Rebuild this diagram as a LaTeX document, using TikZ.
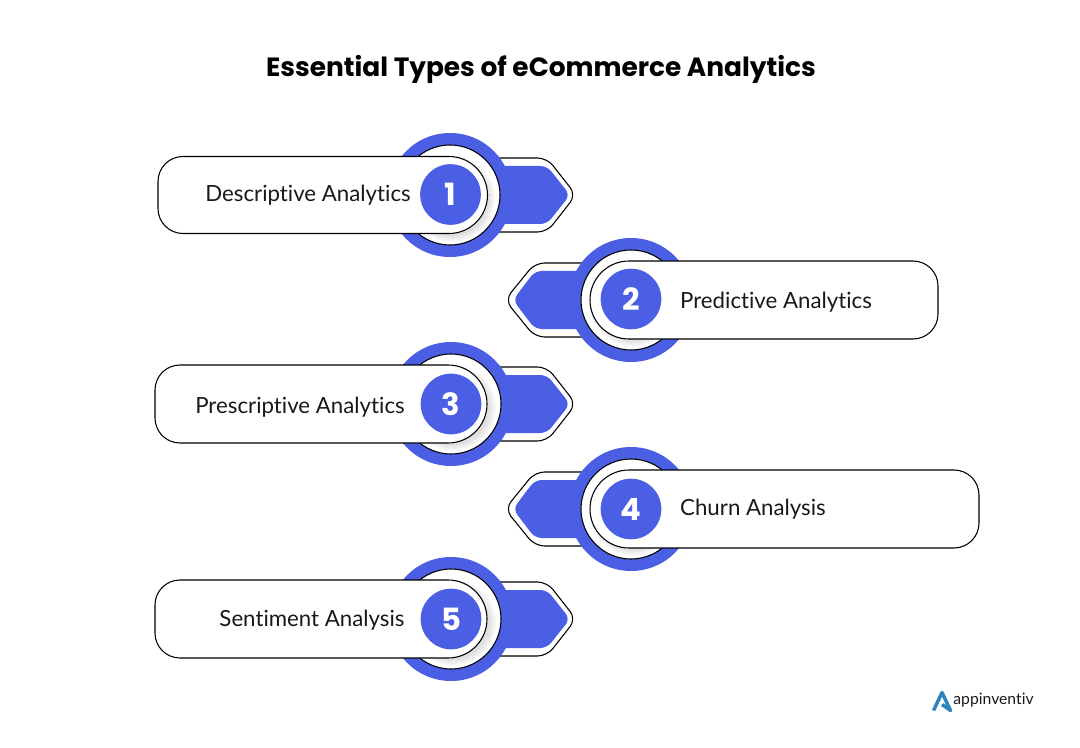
\documentclass[tikz,border=0pt]{standalone}
\usepackage{fontspec}
\setmainfont{Lato}[Ligatures=NoCommon]
\newfontfamily\titlefont{Poppins}
\definecolor{discblue}{HTML}{4B5FE4}
\definecolor{logoblue}{HTML}{2F82BE}
\tikzset{
    ringbox/.style={draw=black, line width=0.8pt, fill=white, path picture={
        \foreach \r in {37,39,...,43}{\fill[black, opacity=0.03] ([shift={(2,4)}]path picture bounding box.center) circle[radius=\r];}
    }},
    arrowbox/.style={draw=black, line width=0.8pt, fill=white, rounded corners=7pt},
    arrowfill/.style={fill=discblue, rounded corners=5pt},
    pillbox/.style={draw=black, line width=0.8pt, fill=white},
    numdisc/.style={circle, fill=discblue, minimum size=45.5pt, inner sep=0pt, text=white, font=\titlefont\fontsize{23}{24}\selectfont\bfseries},
    namelabel/.style={font=\fontsize{16.7}{18}\selectfont, text=black!90},
}
\begin{document}
\begin{tikzpicture}[x=0.75pt, y=-0.75pt]
        \useasboundingbox (0,0) rectangle (1080,748);
        \node[font=\titlefont\fontsize{19.8}{24}\selectfont\bfseries] (title) at (541,69) {Essential Types of eCommerce Analytics};
        \begin{scope}[shift={(450,195)}]
            \draw[arrowbox] (0,-37) -- (97,-37) -- (126,0) -- (97,37) -- (0,37) -- cycle ;
            \fill[arrowfill] (0,-29) -- (97,-29) -- (120,0) -- (97,29) -- (0,29) -- cycle ;
            \fill[discblue] (0,0) circle[radius=62] ;
            \draw[ringbox] (0,0) circle[radius=50] ;
            \draw[pillbox] (-1,-38.5) arc[start angle=-90, end angle=90, radius=38.5] -- (-267,38.5) arc[start angle=90, end angle=180, radius=25] -- (-292,-13.5) arc[start angle=180, end angle=270, radius=25] -- cycle ;
            \node[numdisc] (one) at (0.5,-0.5) {1};
            \node[namelabel] (descriptive) at (-142,0) {Descriptive Analytics};
        \end{scope}
        \begin{scope}[shift={(631,300)}]
            \draw[arrowbox] (0,-37) -- (-96,-37) -- (-126,0) -- (-96,37) -- (0,37) -- cycle ;
            \fill[arrowfill] (0,-29) -- (-96,-29) -- (-118,0) -- (-96,29) -- (0,29) -- cycle ;
            \fill[discblue] (0,0) circle[radius=62] ;
            \draw[ringbox] (0,0) circle[radius=50] ;
            \draw[pillbox] (-2,39) arc[start angle=90, end angle=270, radius=39] -- (282,-39) arc[start angle=-90, end angle=0, radius=25] -- (307,14) arc[start angle=0, end angle=90, radius=25] -- cycle ;
            \node[numdisc] (two) at (0,-1) {2};
            \node[namelabel] (predictive) at (145,2) {Predictive Analytics};
        \end{scope}
        \begin{scope}[shift={(451,404)}]
            \draw[arrowbox] (0,-37) -- (96,-37) -- (125,0) -- (96,37) -- (0,37) -- cycle ;
            \fill[arrowfill] (0,-29) -- (96,-29) -- (119,0) -- (96,29) -- (0,29) -- cycle ;
            \fill[discblue] (0,0) circle[radius=62] ;
            \draw[ringbox] (0,0) circle[radius=50] ;
            \draw[pillbox] (-3,-39) arc[start angle=-90, end angle=90, radius=39] -- (-271,39) arc[start angle=90, end angle=180, radius=25] -- (-296,-14) arc[start angle=180, end angle=270, radius=25] -- cycle ;
            \node[numdisc] (three) at (0,0) {3};
            \node[namelabel] (prescriptive) at (-151,3) {Prescriptive Analytics};
        \end{scope}
        \begin{scope}[shift={(631,509)}]
            \draw[arrowbox] (0,-37) -- (-96,-37) -- (-126,0) -- (-96,37) -- (0,37) -- cycle ;
            \fill[arrowfill] (0,-29) -- (-96,-29) -- (-118,0) -- (-96,29) -- (0,29) -- cycle ;
            \fill[discblue] (0,0) circle[radius=62] ;
            \draw[ringbox] (0,0) circle[radius=50] ;
            \draw[pillbox] (-2,39) arc[start angle=90, end angle=270, radius=39] -- (323,-39) arc[start angle=-90, end angle=0, radius=25] -- (348,14) arc[start angle=0, end angle=90, radius=25] -- cycle ;
            \node[numdisc] (four) at (0,0) {4};
            \node[namelabel] (churn) at (122,0) {Churn Analysis};
        \end{scope}
        \begin{scope}[shift={(451,619)}]
            \draw[arrowbox] (0,-37) -- (96,-37) -- (125,0) -- (96,37) -- (0,37) -- cycle ;
            \fill[arrowfill] (0,-29) -- (96,-29) -- (119,0) -- (96,29) -- (0,29) -- cycle ;
            \fill[discblue] (0,0) circle[radius=62] ;
            \draw[ringbox] (0,0) circle[radius=50] ;
            \draw[pillbox] (-3,-39) arc[start angle=-90, end angle=90, radius=39] -- (-271,39) arc[start angle=90, end angle=180, radius=25] -- (-296,-14) arc[start angle=180, end angle=270, radius=25] -- cycle ;
            \node[numdisc] (five) at (0,0) {5};
            \node[namelabel] (sentiment) at (-139,1) {Sentiment Analysis};
        \end{scope}
        % logo
        \draw[logoblue, line width=2.6pt, line join=round] (933.5,710.5) -- (942,692.5) -- (950.5,710.5) -- (942,704.5) ;
        \node[font=\fontsize{11.8}{14}\selectfont, text=black!90] (brand) at (993.5,700) {appinventiv};
\end{tikzpicture}
\end{document}
